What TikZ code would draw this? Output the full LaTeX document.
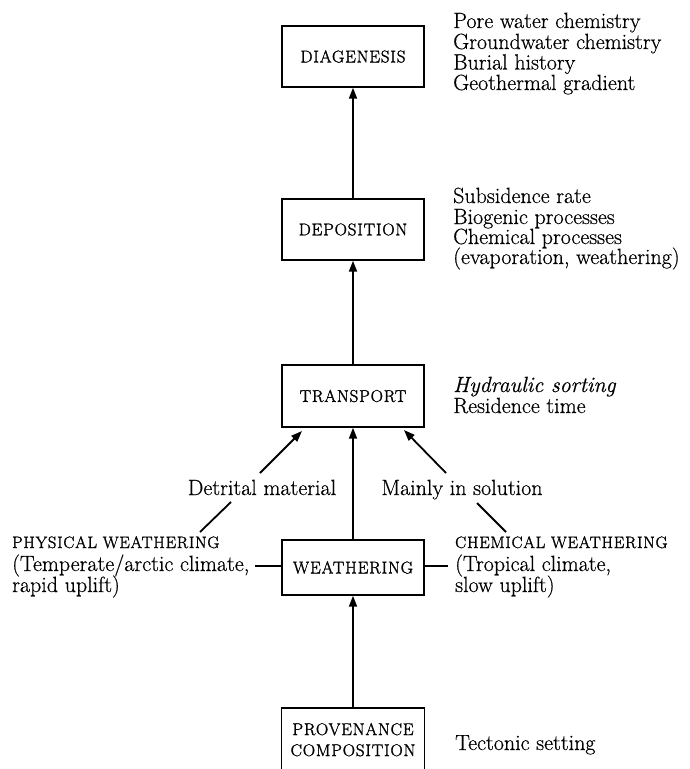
\documentclass[tikz,border=0pt]{standalone}
\usepackage{fontspec}
\setmainfont{Latin Modern Roman}[FakeBold=0.5]
\newfontfamily\capsfont{Latin Modern Roman}[FakeBold=1.6,LetterSpace=5]
\usetikzlibrary{arrows.meta,calc}
\begin{document}
\begin{tikzpicture}[x=1pt,y=-1pt,
  boxline/.style={line width=1.4pt},
  box/.style={draw, boxline, minimum width=142pt, minimum height=61pt, inner sep=0pt,
    font=\capsfont\fontsize{17}{21}\selectfont, align=center},
  arr/.style={-{Triangle[length=11pt,width=8pt]}, line width=1.8pt},
  lin/.style={line width=1.8pt},
  note/.style={anchor=base west, inner sep=0pt, font=\fontsize{22}{21}\selectfont},
  lab/.style={anchor=base, inner sep=0pt, font=\fontsize{22}{21}\selectfont},
  sc/.style={anchor=base west, inner sep=0pt, font=\capsfont\fontsize{16.5}{15}\selectfont}]
\useasboundingbox (0,0) rectangle (689,769);
\clip (0,0) rectangle (689,769);
% boxes
\node[box] (diag) at (353,56.5) {DIAGENESIS};
\node[box] (dep) at (353,229.5) {DEPOSITION};
\node[box, minimum height=62pt] (trans) at (353,396) {TRANSPORT};
\node[box, minimum height=55pt] (weath) at (353,567.5) {WEATHERING};
\node[box, draw=none, minimum height=62pt, anchor=north] (prov) at (353,708) {PROVENANCE\\COMPOSITION};
\draw[boxline] (prov.south west) -- (prov.north west) -- (prov.north east) -- (prov.south east);
% vertical arrows
\draw[arr] (dep.north) -- (diag.south);
\draw[arr] (trans.north) -- (dep.south);
\draw[arr] (weath.north) -- (trans.south);
\draw[arr] (prov.north) -- (weath.south);
% side notes
\node[note] (a1) at (453,28) {Pore water chemistry};
\node[note] (a2) at (453,49) {Groundwater chemistry};
\node[note] (a3) at (453,69.5) {Burial history};
\node[note] (a4) at (453,90) {Geothermal gradient};
\node[note] (b1) at (453,203) {Subsidence rate};
\node[note] (b2) at (453,224) {Biogenic processes};
\node[note] (b3) at (453,244) {Chemical processes};
\node[note] (b4) at (453,264) {(evaporation, weathering)};
\node[note] (c1) at (453,392) {\itshape Hydraulic sorting};
\node[note] (c2) at (453,413) {Residence time};
\node[note] (d1) at (455,750) {Tectonic setting};
% weathering branches
\node[lab] (detr) at (262,495) {Detrital material};
\node[lab] (sol) at (462,495) {Mainly in solution};
\coordinate (dtip) at (302,431);
\coordinate (dbase) at (260,473);
\coordinate (stip) at (404,430);
\coordinate (sbase) at (446,473);
\draw[arr] (dbase) -- (dtip);
\draw[arr] (sbase) -- (stip);
\coordinate (dl1) at (231,502);
\coordinate (dl2) at (200,532);
\coordinate (sl1) at (477,503);
\coordinate (sl2) at (506,532);
\draw[lin] (dl1) -- (dl2);
\draw[lin] (sl1) -- (sl2);
\node[sc] (phys) at (12,548) {PHYSICAL WEATHERING};
\node[note] (p1) at (12,571) {(Temperate/arctic climate,};
\node[note] (p2) at (12,592) {rapid uplift)};
\node[sc] (chem) at (455,548) {CHEMICAL WEATHERING};
\node[note] (q1) at (455,571) {(Tropical climate,};
\node[note] (q2) at (455,592) {slow uplift)};
\coordinate (pl) at (255,566);
\coordinate (cl) at (448,566);
\draw[lin] (weath.west |- pl) -- (pl);
\draw[lin] (weath.east |- cl) -- (cl);
\end{tikzpicture}
\end{document}
